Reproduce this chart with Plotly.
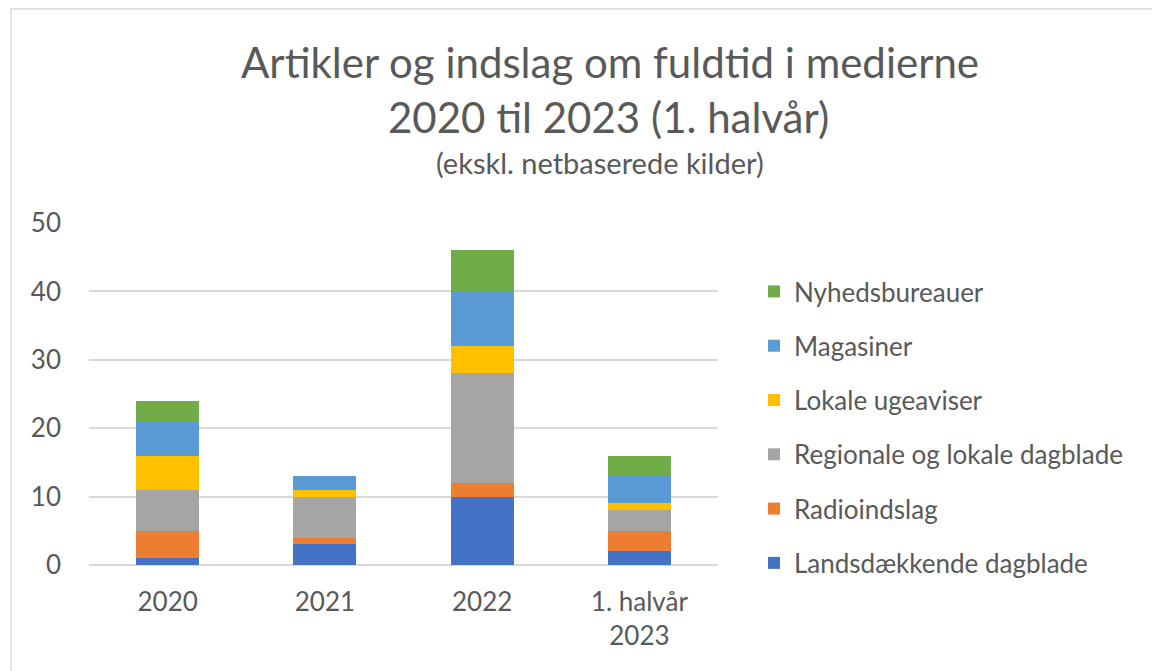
import plotly.graph_objects as go

categories = ["2020", "2021", "2022", "1. halvår<br>2023"]
series_names = ["Landsdækkende dagblade", "Radioindslag", "Regionale og lokale dagblade",
                "Lokale ugeaviser", "Magasiner", "Nyhedsbureauer"]
landsdaekkende = [1, 3, 10, 2]
radio = [4, 1, 2, 3]
regionale = [6, 6, 16, 3]
ugeaviser = [5, 1, 4, 1]
magasiner = [5, 2, 8, 4]
nyhedsbureauer = [3, 0, 6, 3]
y_ticks = [0, 10, 20, 30, 40, 50]

values = [landsdaekkende, radio, regionale, ugeaviser, magasiner, nyhedsbureauer]
colors = ["#4472C4", "#ED7D31", "#A5A5A5", "#FFC000", "#5B9BD5", "#70AD47"]

FONT = "Lato"
TXT = "#595959"

# page body has an 8px offset; plot area in screen px: x 89..718, y 223..565
def px_x(sx):
    return (sx - 89) / 629

def px_y(sy):
    return (565 - sy) / 342

fig = go.Figure()
n = len(series_names)
for i, (name, vals, col) in enumerate(zip(series_names, values, colors)):
    fig.add_trace(go.Bar(x=categories, y=vals, name=name, marker_color=col,
                         marker_line_width=0, legendgroup=name, legendrank=n - i))

fig.update_layout(
    barmode="stack",
    bargap=0.6,
    width=1160, height=671,
    margin=dict(l=81, r=450, t=215, b=114),
    paper_bgcolor="white", plot_bgcolor="white",
    font=dict(family=FONT, color=TXT, size=26),
    showlegend=True,
    legend=dict(traceorder="grouped", tracegroupgap=17.5,
                x=px_x(754), xanchor="left", y=px_y(268), yanchor="top",
                font=dict(size=26, color=TXT, family=FONT),
                itemwidth=30),
    xaxis=dict(showgrid=False, showline=False, ticks="", ticklabelstandoff=19,
               tickfont=dict(size=26, color=TXT, family=FONT)),
    yaxis=dict(range=[0, 50], tickvals=y_ticks, showgrid=True, gridcolor="#D9D9D9",
               gridwidth=1.5, zeroline=True, zerolinecolor="#D9D9D9", zerolinewidth=1.5,
               showline=False, ticks="", ticklabelstandoff=27,
               tickfont=dict(size=26, color=TXT, family=FONT)),
    shapes=[dict(type="rect", xref="paper", yref="paper",
                 x0=px_x(11), x1=px_x(1185),
                 y0=px_y(700), y1=px_y(9),
                 line=dict(color="#D9D9D9", width=1.5), fillcolor="rgba(0,0,0,0)",
                 layer="below")],
    annotations=[
        dict(text="Artikler og indslag om fuldtid i medierne",
             xref="paper", yref="paper", x=px_x(610), y=px_y(62),
             xanchor="center", yanchor="middle", showarrow=False,
             font=dict(size=42, color=TXT, family=FONT)),
        dict(text="2020 til 2023 (1. halvår)",
             xref="paper", yref="paper", x=px_x(608), y=px_y(117),
             xanchor="center", yanchor="middle", showarrow=False,
             font=dict(size=42, color=TXT, family=FONT)),
        dict(text="(ekskl. netbaserede kilder)",
             xref="paper", yref="paper", x=px_x(600), y=px_y(162),
             xanchor="center", yanchor="middle", showarrow=False,
             font=dict(size=29, color=TXT, family=FONT)),
    ],
)

fig.write_html("out.html")
